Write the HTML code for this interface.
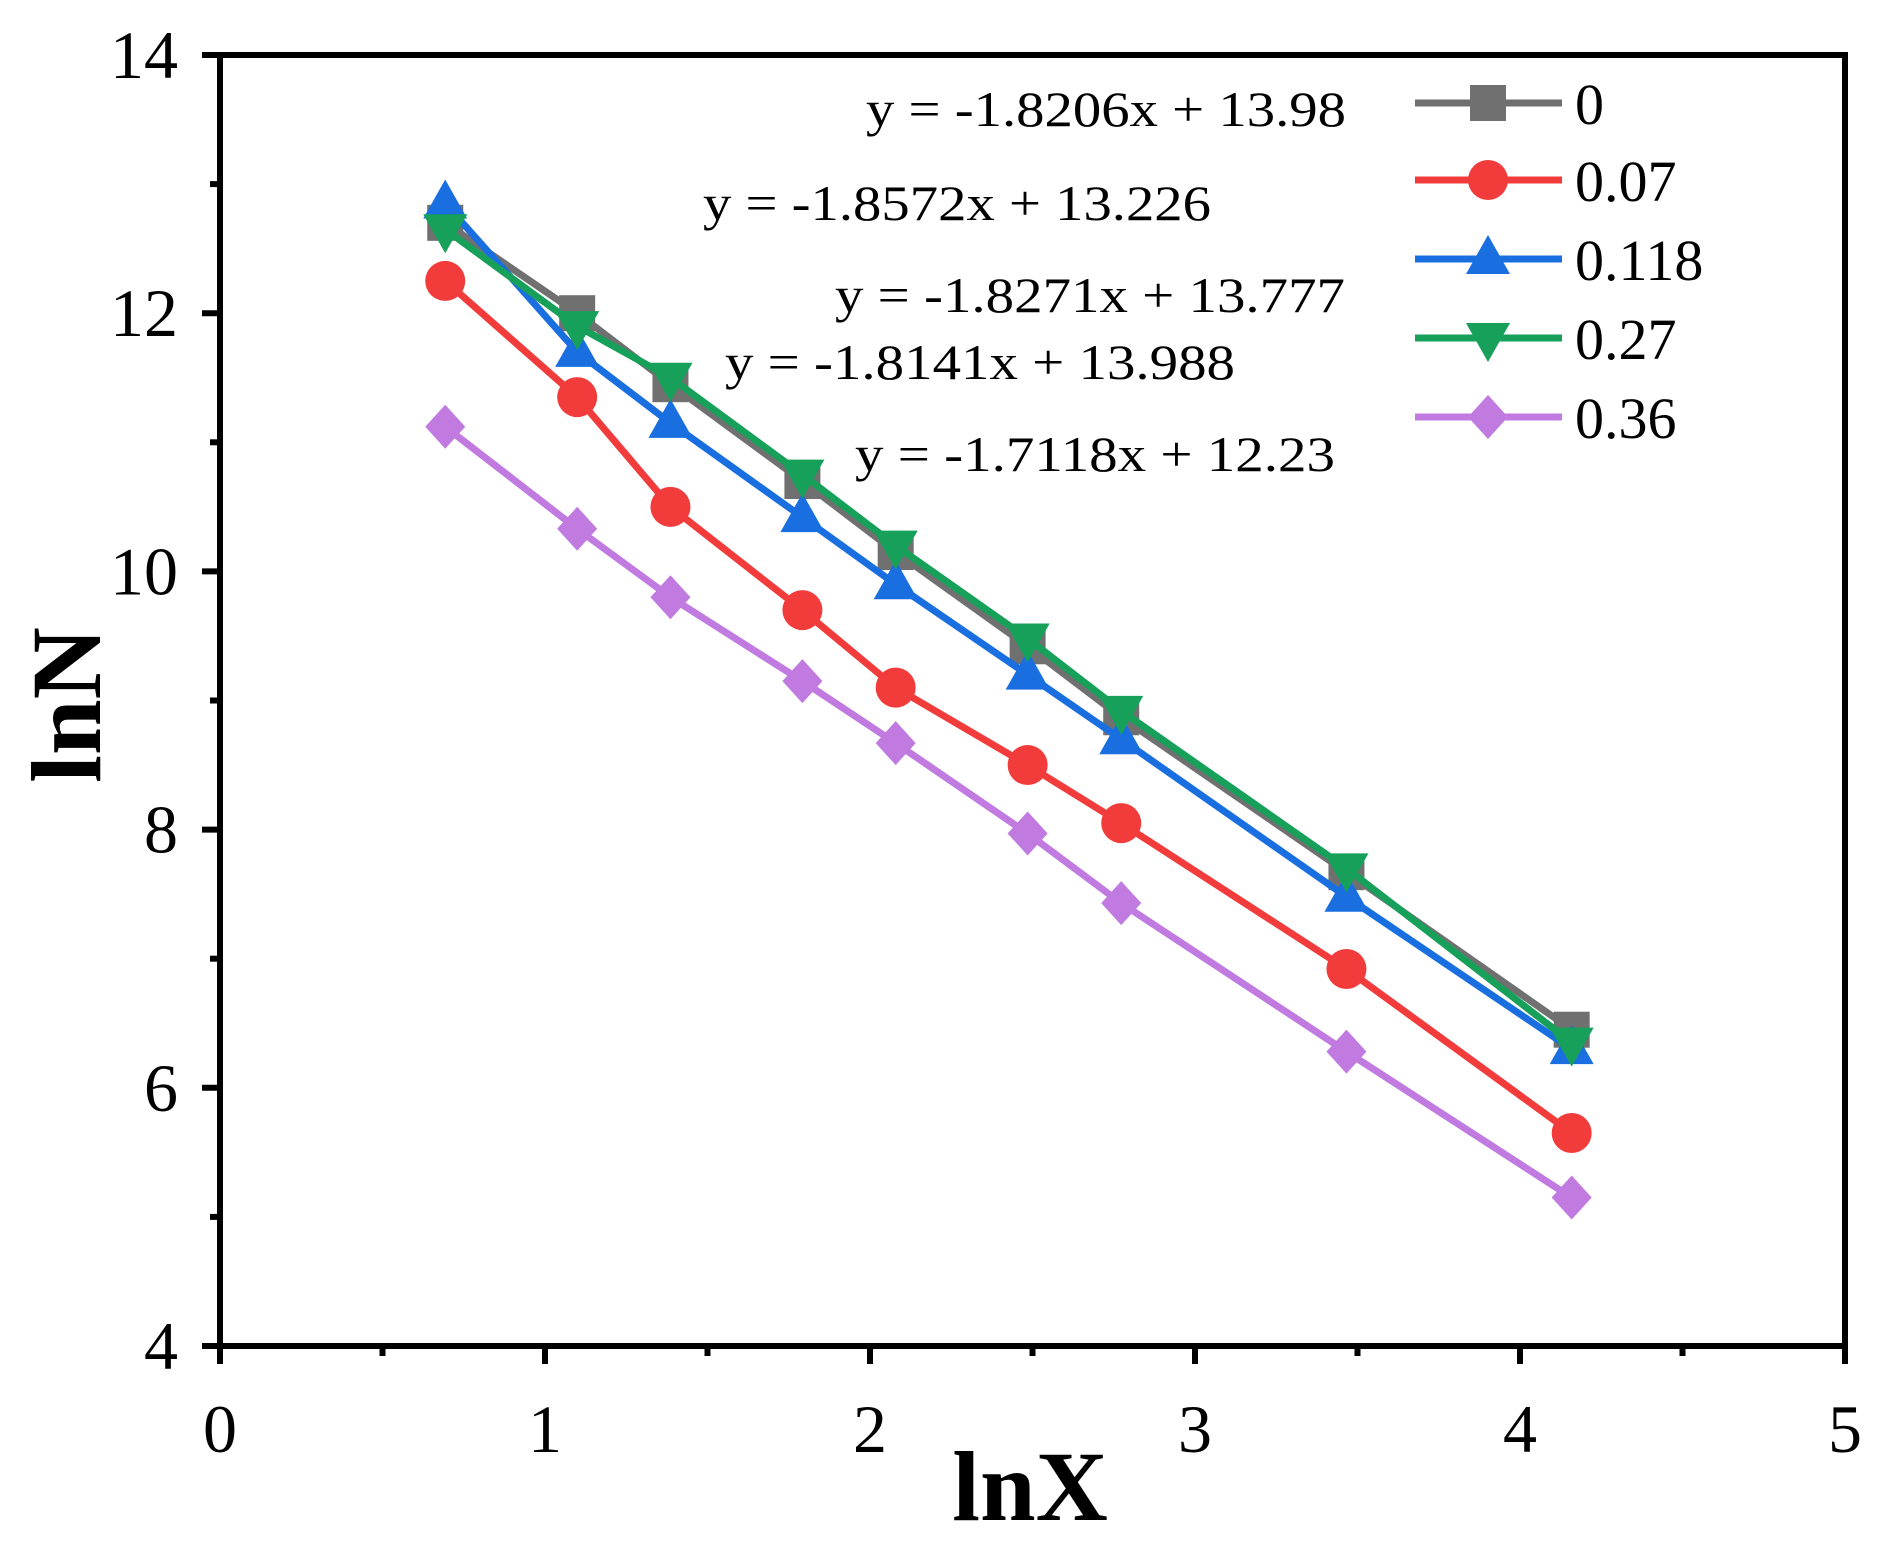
<!DOCTYPE html>
<html><head><meta charset="utf-8"><style>
body{margin:0;background:#fff}
svg{display:block;font-family:"Liberation Serif","Times New Roman",serif}
</style></head><body>
<svg id="chart" width="1895" height="1553" viewBox="0 0 1895 1553">
<g id="plot"></g>
</svg>
<script>
const xVals=[0.693,1.099,1.386,1.792,2.079,2.485,2.773,3.466,4.159];
const seriesNames=["0","0.07","0.118","0.27","0.36"];
const s0=[12.7,12.0,11.45,10.7,10.15,9.42,8.87,7.67,6.45];
const s007=[12.25,11.35,10.5,9.7,9.1,8.5,8.05,6.92,5.65];
const s0118=[12.85,11.7,11.15,10.42,9.9,9.2,8.7,7.48,6.3];
const s027=[12.65,11.9,11.5,10.75,10.2,9.48,8.92,7.7,6.35];
const s036=[11.12,10.33,9.8,9.15,8.67,7.97,7.43,6.28,5.15];
const xTicks=[0,1,2,3,4,5];
const yTicks=[4,6,8,10,12,14];
const equations=["y = -1.8206x + 13.98","y = -1.8572x + 13.226","y = -1.8271x + 13.777","y = -1.8141x + 13.988","y = -1.7118x + 12.23"];

const NS="http://www.w3.org/2000/svg";
const X0=220,X1=1845,Y0=1346,Y1=55;
const xs=v=>X0+(v-0)/5*(X1-X0);
const ys=v=>Y0-(v-4)/10*(Y0-Y1);
const g=document.getElementById('plot');
function mk(t,a,p){const e=document.createElementNS(NS,t);for(const k in a)e.setAttribute(k,a[k]);(p||g).appendChild(e);return e;}

xTicks.forEach(t=>{
 const l=mk('line',{x1:xs(t),x2:xs(t),y1:Y0,y2:Y0+18,stroke:'#000','stroke-width':6});
 
 
 if(t<5){const m=mk('line',{x1:xs(t+0.5),x2:xs(t+0.5),y1:Y0,y2:Y0+10,stroke:'#000','stroke-width':6});
 
 }
 const tx=mk('text',{x:xs(t),y:1452,'font-size':68,'text-anchor':'middle'});tx.textContent=t;
 
 
});
yTicks.forEach(t=>{
 const l=mk('line',{x1:X0-18,x2:X0,y1:ys(t),y2:ys(t),stroke:'#000','stroke-width':6});
 
 
 if(t<14){const m=mk('line',{x1:X0-10,x2:X0,y1:ys(t+1),y2:ys(t+1),stroke:'#000','stroke-width':6});
 
 }
 const tx=mk('text',{x:178,y:ys(t)+23,'font-size':68,'text-anchor':'end'});tx.textContent=t;
 
 
});
const frame=mk('rect',{x:X0,y:Y1,width:X1-X0,height:Y0-Y1,fill:'none',stroke:'#000','stroke-width':6});



const colors=['#707070','#f23c3c','#1a6fe0','#16a05a','#c07ae0'];
const data=[s0,s007,s0118,s027,s036];
function marker(i,cx,cy,parent){
 const c=colors[i];let e;
 if(i===0)e=mk('rect',{x:cx-18,y:cy-18,width:36,height:36,fill:c},parent);
 else if(i===1)e=mk('circle',{cx:cx,cy:cy,r:20,fill:c},parent);
 else if(i===2)e=mk('polygon',{points:`${cx},${cy-24} ${cx-22},${cy+15} ${cx+22},${cy+15}`,fill:c},parent);
 else if(i===3)e=mk('polygon',{points:`${cx},${cy+24} ${cx-22},${cy-15} ${cx+22},${cy-15}`,fill:c},parent);
 else e=mk('polygon',{points:`${cx},${cy-22} ${cx+20},${cy} ${cx},${cy+22} ${cx-20},${cy}`,fill:c},parent);
 return e;
}
data.forEach((arr,i)=>{
 const sg=mk('g',{});
 
 
 const pl=mk('polyline',{points:arr.map((v,j)=>xs(xVals[j])+','+ys(v)).join(' '),fill:'none',stroke:colors[i],'stroke-width':7,'stroke-linejoin':'round'},sg);
 
 
 arr.forEach((v,j)=>{const m=marker(i,xs(xVals[j]),ys(v),sg);
  
  });
});
const legY=[103,180,259,338,417];
seriesNames.forEach((n,i)=>{
 const lg=mk('g',{});
 
 
 mk('line',{x1:1415,x2:1562,y1:legY[i],y2:legY[i],stroke:colors[i],'stroke-width':7},lg);
 marker(i,1488,legY[i],lg);
 const t=mk('text',{x:1575,y:legY[i]+21,'font-size':58},lg);t.textContent=n;
});
const eqPos=[[866,126,480],[703,220,508],[835,312,510],[725,379,510],[855,471,480]];
equations.forEach((e,i)=>{
 const t=mk('text',{x:eqPos[i][0],y:eqPos[i][1],'font-size':50,textLength:eqPos[i][2],lengthAdjust:'spacingAndGlyphs'});
 t.textContent=e;
 
 
});
const xt=mk('text',{x:1030,y:1520,'font-size':100,'font-weight':'bold','text-anchor':'middle'});xt.textContent='lnX';


const yt=mk('text',{x:0,y:0,'font-size':100,'font-weight':'bold','text-anchor':'middle',transform:'translate(100,705) rotate(-90)'});yt.textContent='lnN';


</script>
</body></html>
